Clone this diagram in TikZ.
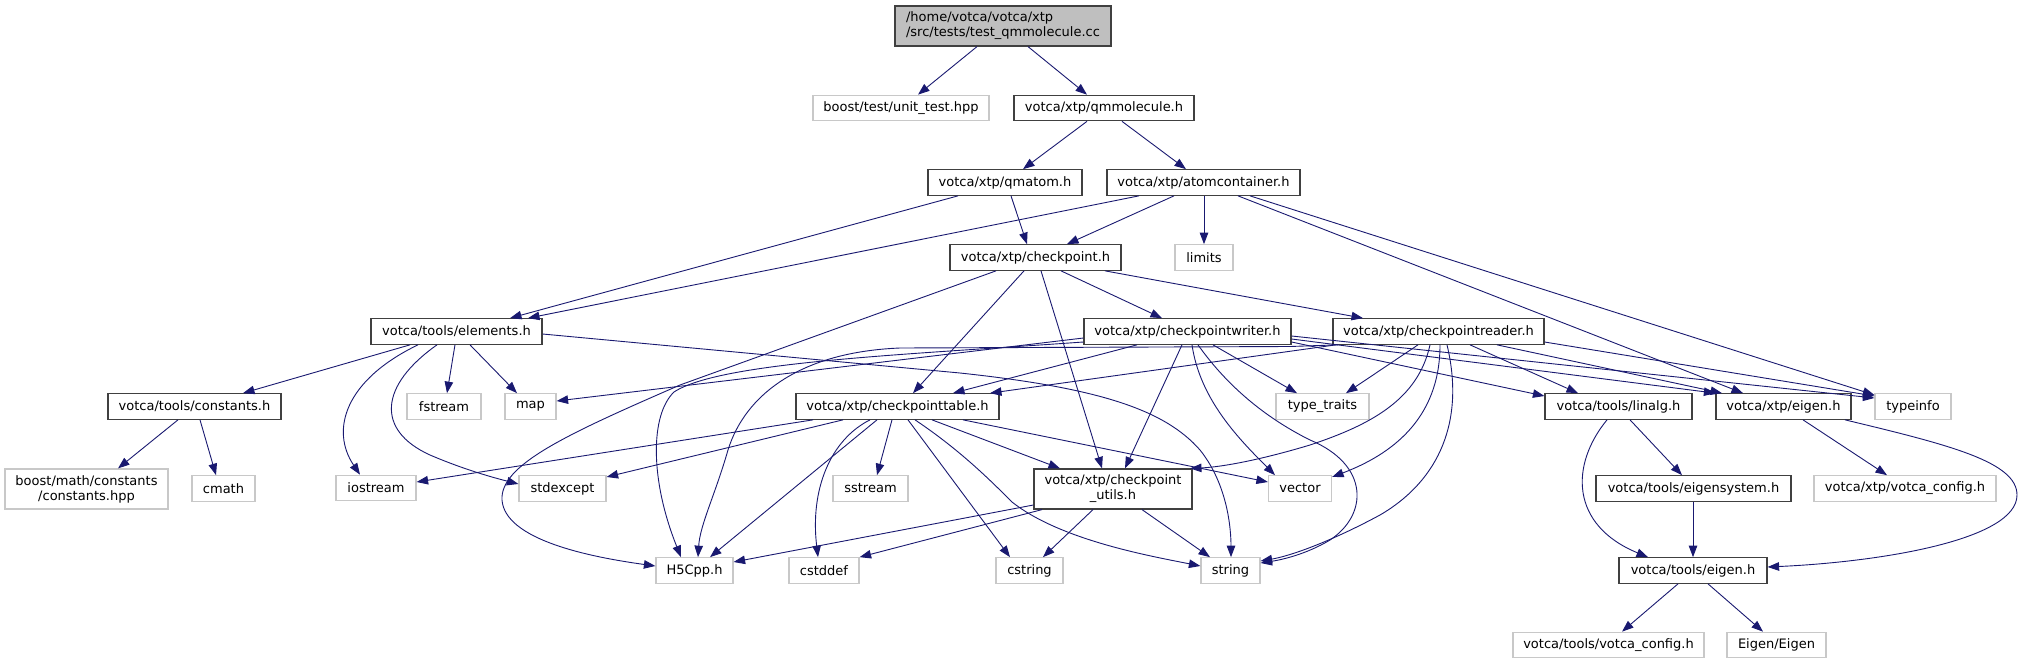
\documentclass[tikz,border=0pt]{standalone}
\usepackage{fontspec}
\setmainfont{DejaVu Sans}
\usetikzlibrary{arrows.meta}
\definecolor{edgec}{HTML}{191970}
\definecolor{docb}{HTML}{404040}
\definecolor{extb}{HTML}{C8C8C8}
\definecolor{rootf}{HTML}{BFBFBF}
\begin{document}
\begin{tikzpicture}[x=1pt,y=-1pt,
  font=\fontsize{13}{15}\selectfont,
  box/.style={inner sep=0pt, minimum height=25.5pt, line width=1.2pt, fill=white},
  doc/.style={box, draw=docb},
  ext/.style={box, draw=extb},
  rootbox/.style={box, draw=docb, fill=rootf, minimum height=40pt, align=left},
  twol/.style={minimum height=40pt, align=center},
  edge/.style={draw=edgec, line width=0.9pt, -{Triangle[length=11.5pt,width=8.5pt]}}]
\useasboundingbox (0,0) rectangle (2022,664);
% nodes
\node[rootbox, minimum width=216pt] (root) at (1003,26) {/home/votca/votca/xtp\\/src/tests/test\_qmmolecule.cc};
\node[ext, minimum width=176pt] (unittest) at (901,108) {boost/test/unit\_test.hpp};
\node[doc, minimum width=180pt] (qmmolecule) at (1104,108) {votca/xtp/qmmolecule.h};
\node[doc, minimum width=154pt] (qmatom) at (1005,182.5) {votca/xtp/qmatom.h};
\node[doc, minimum width=193pt] (atomcontainer) at (1203.5,182.5) {votca/xtp/atomcontainer.h};
\node[doc, minimum width=171pt] (checkpoint) at (1035.5,257.5) {votca/xtp/checkpoint.h};
\node[ext, minimum width=58pt] (limits) at (1204,257.5) {limits};
\node[doc, minimum width=171pt] (elements) at (456.5,331.5) {votca/tools/elements.h};
\node[doc, minimum width=207pt] (writer) at (1187.5,331.5) {votca/xtp/checkpointwriter.h};
\node[doc, minimum width=211pt] (reader) at (1438.5,331.5) {votca/xtp/checkpointreader.h};
\node[doc, minimum width=173pt] (constants) at (194.5,406.5) {votca/tools/constants.h};
\node[ext, minimum width=74pt] (fstream) at (444,406.5) {fstream};
\node[ext, minimum width=51pt] (map) at (530.5,406.5) {map};
\node[doc, minimum width=203pt] (table) at (897.5,406.5) {votca/xtp/checkpointtable.h};
\node[ext, minimum width=93pt] (typetraits) at (1322.5,406.5) {type\_traits};
\node[doc, minimum width=147pt] (linalg) at (1618.5,406.5) {votca/tools/linalg.h};
\node[doc, minimum width=135pt] (xtpeigen) at (1783.5,406.5) {votca/xtp/eigen.h};
\node[ext, minimum width=76pt] (typeinfo) at (1913,406.5) {typeinfo};
\node[ext, twol, minimum width=163pt] (boostmath) at (86.5,489) {boost/math/constants\\/constants.hpp};
\node[ext, minimum width=63pt] (cmath) at (223.5,488.5) {cmath};
\node[ext, minimum width=80pt] (iostream) at (376,488) {iostream};
\node[ext, minimum width=87pt] (stdexcept) at (562.5,488.5) {stdexcept};
\node[ext, minimum width=75pt] (sstream) at (870.5,488.5) {sstream};
\node[doc, twol, minimum width=158pt] (utils) at (1113,489) {votca/xtp/checkpoint\\\_utils.h};
\node[ext, minimum width=63pt] (vector) at (1300,488.5) {vector};
\node[doc, minimum width=195pt] (eigensystem) at (1693.5,488.5) {votca/tools/eigensystem.h};
\node[ext, minimum width=182pt] (xtpconfig) at (1905,488.5) {votca/xtp/votca\_config.h};
\node[ext, minimum width=77pt] (h5cpp) at (694.5,570.5) {H5Cpp.h};
\node[ext, minimum width=70pt] (cstddef) at (824,570.5) {cstddef};
\node[ext, minimum width=67pt] (cstring) at (1029.5,570.5) {cstring};
\node[ext, minimum width=59pt] (string) at (1230.5,570.5) {string};
\node[doc, minimum width=148pt] (toolseigen) at (1693,570.5) {votca/tools/eigen.h};
\node[ext, minimum width=191pt] (toolsconfig) at (1608.5,645) {votca/tools/votca\_config.h};
\node[ext, minimum width=99pt] (eigen) at (1776.5,645) {Eigen/Eigen};
% edges
\draw[edge] (977,0 |- root.south) -- (918,0 |- unittest.north);
\draw[edge] (1028,0 |- root.south) -- (1087,0 |- qmmolecule.north);
\draw[edge] (1087,0 |- qmmolecule.south) -- (1023,0 |- qmatom.north);
\draw[edge] (1122,0 |- qmmolecule.south) -- (1186,0 |- atomcontainer.north);
\draw[edge] (958,0 |- qmatom.south) -- (510,0 |- elements.north);
\draw[edge] (1011,0 |- qmatom.south) -- (1027,0 |- checkpoint.north);
\draw[edge] (1139,0 |- atomcontainer.south) -- (528,0 |- elements.north);
\draw[edge] (1174,0 |- atomcontainer.south) -- (1067,0 |- checkpoint.north);
\draw[edge] (1204,0 |- atomcontainer.south) -- (limits.north);
\draw[edge] (1238,0 |- atomcontainer.south) -- (1743,0 |- xtpeigen.north);
\draw[edge] (1250,0 |- atomcontainer.south) -- (typeinfo.west |- 0,395);
% checkpoint
\draw[edge] (996,0 |- checkpoint.south) -- (680,385) .. controls (565,435) and (500,465) .. (502,500) .. controls (505,540) and (590,557) .. (h5cpp.west |- 0,566);
\draw[edge] (1024,0 |- checkpoint.south) -- (913,0 |- table.north);
\draw[edge] (1041,0 |- checkpoint.south) -- (1102,0 |- utils.north);
\draw[edge] (1061,0 |- checkpoint.south) -- (1162,0 |- writer.north);
\draw[edge] (1105,0 |- checkpoint.south) -- (1363,0 |- reader.north);
% elements
\draw[edge] (410,0 |- elements.south) -- (243,0 |- constants.north);
\draw[edge] (418,0 |- elements.south) .. controls (345,380) and (330,430) .. (360,0 |- iostream.north);
\draw[edge] (437,0 |- elements.south) .. controls (380,385) and (375,430) .. (430,455) .. controls (465,470) and (495,478) .. (stdexcept.west |- 0,484);
\draw[edge] (455,0 |- elements.south) -- (447,0 |- fstream.north);
\draw[edge] (470,0 |- elements.south) -- (517,0 |- map.north);
\draw[edge] (elements.east |- 0,334) -- (960,373) .. controls (1100,388) and (1165,410) .. (1200,450) .. controls (1228,485) and (1231,530) .. (1231,0 |- string.north);
% constants
\draw[edge] (178,0 |- constants.south) -- (118,0 |- boostmath.north);
\draw[edge] (200,0 |- constants.south) -- (216,0 |- cmath.north);
% writer
\draw[edge] (writer.west |- 0,338) -- (map.east |- 0,401);
\draw[edge] (writer.west |- 0,342) .. controls (900,355) and (720,362) .. (674,392) .. controls (650,415) and (650,480) .. (681,0 |- h5cpp.north);
\draw[edge] (1137,0 |- writer.south) -- (953,0 |- table.north);
\draw[edge] (1182,0 |- writer.south) -- (1125,0 |- utils.north);
\draw[edge] (1213,0 |- writer.south) -- (1297,0 |- typetraits.north);
\draw[edge] (1192,0 |- writer.south) .. controls (1200,400) and (1240,440) .. (1275,0 |- vector.north);
\draw[edge] (1198,0 |- writer.south) .. controls (1230,390) and (1270,420) .. (1310,440) .. controls (1370,465) and (1368,515) .. (1330,540) .. controls (1305,555) and (1280,560) .. (string.east |- 0,563);
\draw[edge] (writer.east |- 0,342) -- (linalg.west |- 0,396);
\draw[edge] (writer.east |- 0,339) -- (xtpeigen.north west);
\draw[edge] (writer.east |- 0,336) -- (typeinfo.west |- 0,398);
% reader
\draw[edge] (1338,0 |- reader.south) -- (1290,346.5) -- (900,348) .. controls (800,352) and (745,395) .. (728,450) .. controls (715,495) and (700,525) .. (698,0 |- h5cpp.north);
\draw[edge] (1336,0 |- reader.south) -- (990,0 |- table.north);
\draw[edge] (1430,0 |- reader.south) .. controls (1418,400) and (1370,425) .. (1310,445) .. controls (1260,460) and (1222,467) .. (1190,0 |- utils.north);
\draw[edge] (1418,0 |- reader.south) -- (1346,0 |- typetraits.north);
\draw[edge] (1440,0 |- reader.south) .. controls (1440,420) and (1390,455) .. (vector.east |- 0,477);
\draw[edge] (1447,0 |- reader.south) .. controls (1465,420) and (1440,480) .. (1380,515) .. controls (1330,542) and (1290,556) .. (string.east |- 0,561);
\draw[edge] (1470,0 |- reader.south) -- (1578,0 |- linalg.north);
\draw[edge] (1497,0 |- reader.south) -- (1722,0 |- xtpeigen.north);
\draw[edge] (reader.east |- 0,342) -- (typeinfo.west |- 0,396);
% table
\draw[edge] (813,0 |- table.south) -- (iostream.east |- 0,482);
\draw[edge] (843,0 |- table.south) -- (stdexcept.east |- 0,477);
\draw[edge] (877,0 |- table.south) -- (710,0 |- h5cpp.north);
\draw[edge] (870,0 |- table.south) .. controls (830,440) and (810,490) .. (818,0 |- cstddef.north);
\draw[edge] (892,0 |- table.south) -- (877,0 |- sstream.north);
\draw[edge] (908,0 |- table.south) -- (1010,0 |- cstring.north);
\draw[edge] (915,0 |- table.south) .. controls (960,450) and (990,480) .. (1012,502) .. controls (1060,540) and (1150,556) .. (string.west |- 0,566);
\draw[edge] (932,0 |- table.south) -- (1060,0 |- utils.north);
\draw[edge] (963,0 |- table.south) -- (vector.west |- 0,482);
% utils
\draw[edge] (utils.west |- 0,505) -- (h5cpp.east |- 0,562);
\draw[edge] (1042,0 |- utils.south) -- (cstddef.north east);
\draw[edge] (1093,0 |- utils.south) -- (1043,0 |- cstring.north);
\draw[edge] (1142,0 |- utils.south) -- (1210,0 |- string.north);
% linalg, eigen
\draw[edge] (1607,0 |- linalg.south) .. controls (1570,465) and (1570,525) .. (1648,0 |- toolseigen.north);
\draw[edge] (1630,0 |- linalg.south) -- (1682,0 |- eigensystem.north);
\draw[edge] (1693,0 |- eigensystem.south) -- (1693,0 |- toolseigen.north);
\draw[edge] (1803,0 |- xtpeigen.south) -- (1887,0 |- xtpconfig.north);
\draw[edge] (1845,0 |- xtpeigen.south) .. controls (1950,445) and (2017,462) .. (2017,495) .. controls (2017,540) and (1880,562) .. (toolseigen.east |- 0,567);
\draw[edge] (1678,0 |- toolseigen.south) -- (1622,0 |- toolsconfig.north);
\draw[edge] (1708,0 |- toolseigen.south) -- (1763,0 |- eigen.north);
\end{tikzpicture}
\end{document}
